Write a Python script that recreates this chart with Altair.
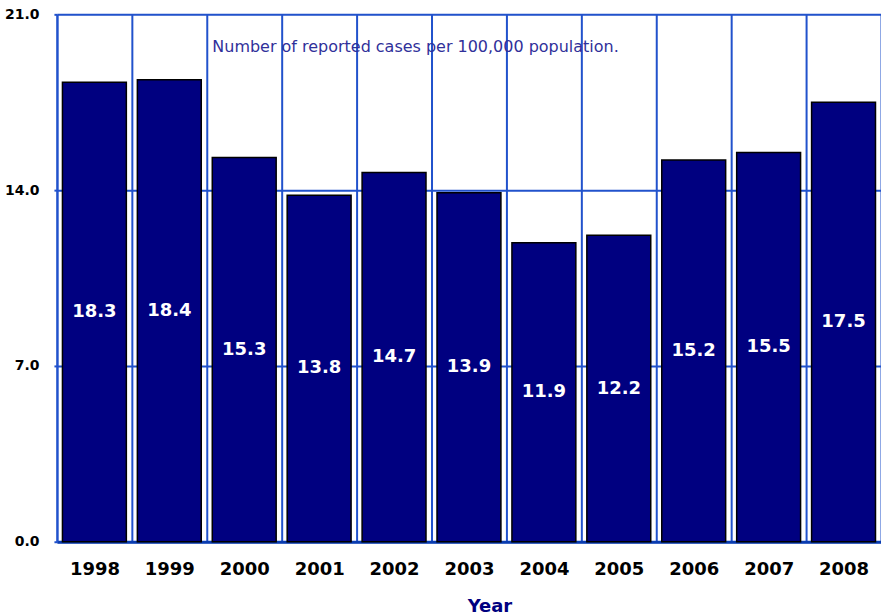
import altair as alt
import pandas as pd

# Reported cases per 100,000 population, by year
years = ["1998", "1999", "2000", "2001", "2002", "2003",
         "2004", "2005", "2006", "2007", "2008"]
rates = [18.3, 18.4, 15.3, 13.8, 14.7, 13.9, 11.9, 12.2, 15.2, 15.5, 17.5]
y_ticks = [0, 7, 14, 21]
note = "Number of reported cases per 100,000 population."

df = pd.DataFrame({"year": years, "rate": rates})

GRID = "#2152cc"
NAVY = "#000080"

x_enc = alt.X(
    "year:N",
    sort=years,
    scale=alt.Scale(paddingInner=0, paddingOuter=0),
    axis=alt.Axis(
        title="Year",
        labelAngle=0,
        labelFont="DejaVu Sans",
        labelFontWeight="bold",
        labelFontSize=18,
        labelColor="black",
        labelPadding=19,
        ticks=False,
        grid=True,
        gridColor=GRID,
        gridWidth=2,
        tickBand="extent",
        domainColor="#0a3cb0",
        domainWidth=3,
        titleFont="DejaVu Sans",
        titleFontWeight="bold",
        titleFontSize=18,
        titleColor=NAVY,
        titleX=433,
        titleY=70,
        titleBaseline="alphabetic",
        titleAlign="center",
    ),
)

y_scale = alt.Scale(domain=[0, 21], nice=False, zero=True)

bars = alt.Chart(df).mark_bar(
    width=alt.RelativeBandSize(0.853),
    color=NAVY,
    stroke="black",
    strokeWidth=1.5,
).encode(
    x=x_enc,
    y=alt.Y(
        "rate:Q",
        scale=y_scale,
        axis=alt.Axis(
            title=None,
            values=y_ticks,
            format=".1f",
            labelFont="DejaVu Sans",
            labelFontWeight="bold",
            labelFontSize=14,
            labelColor="black",
            labelPadding=15,
            ticks=True,
            tickSize=3,
            tickColor=GRID,
            tickWidth=2,
            grid=True,
            gridColor=GRID,
            gridWidth=2,
            domainColor=GRID,
            domainWidth=2,
        ),
    ),
)

labels = alt.Chart(df).transform_calculate(
    mid="datum.rate / 2"
).mark_text(
    font="DejaVu Sans",
    fontWeight="bold",
    fontSize=18,
    color="white",
    baseline="middle",
).encode(
    x=alt.X("year:N", sort=years),
    y=alt.Y("mid:Q", scale=y_scale),
    text=alt.Text("rate:Q", format=".1f"),
)

caption = alt.Chart(pd.DataFrame({"t": [note]})).mark_text(
    font="DejaVu Sans",
    fontSize=16,
    color="#30309a",
    align="center",
    baseline="middle",
).encode(
    x=alt.value(359),
    y=alt.value(33),
    text="t:N",
)

chart = alt.layer(bars, labels, caption).properties(
    width=825,
    height=528,
    autosize=alt.AutoSizeParams(type="none"),
    padding={"left": 57, "top": 14, "right": 0, "bottom": 74},
).configure_view(
    stroke=None
).configure(
    background="white"
)

chart.save("out.html", embed_options={"renderer": "svg", "actions": False})
